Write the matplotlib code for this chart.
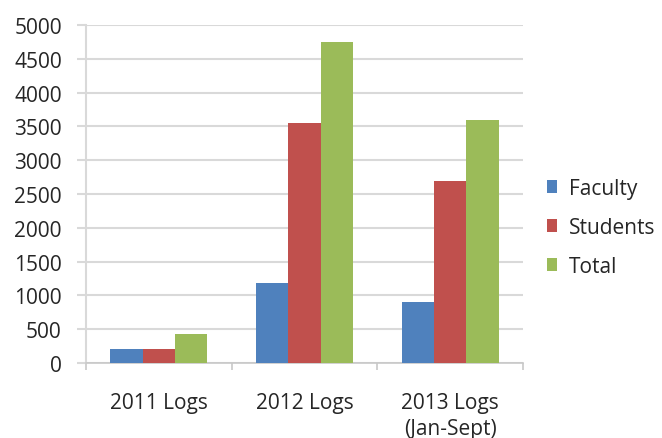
import numpy as np
import matplotlib.pyplot as plt

# data
categories = ['2011 Logs', '2012 Logs', '2013 Logs\n(Jan-Sept)']
faculty = [210, 1180, 900]
students = [210, 3550, 2690]
total = [430, 4740, 3590]

series = ['Faculty', 'Students', 'Total']
colors = ['#4F81BD', '#C0504D', '#9BBB59']

plt.rcParams['font.family'] = ['Open Sans', 'DejaVu Sans']
txt = '#262626'

fig = plt.figure(figsize=(6.62, 4.39), dpi=100)
ax = fig.add_axes([0.130, 0.171, 0.660, 0.770])

x = np.arange(len(categories))
w = 0.222
for i, (vals, name, col) in enumerate(zip([faculty, students, total], series, colors)):
    ax.bar(x + (i - 1) * w, vals, width=w, color=col, label=name, zorder=3)

ax.set_xlim(-0.5, len(categories) - 0.5)
ax.set_ylim(0, 5000)
ax.set_yticks(np.arange(0, 5001, 500))
ax.yaxis.grid(True, color='#d9d9d9', linewidth=1.5, zorder=0)

# category ticks at the boundaries
ax.set_xticks(np.arange(-0.5, len(categories), 1))
ax.set_xticklabels([])
ax.set_xticks(x, minor=True)
ax.set_xticklabels(categories, minor=True, fontsize=15, color=txt, linespacing=1.3)
ax.tick_params(axis='x', which='minor', length=0, pad=21)
ax.tick_params(axis='x', which='major', length=5, width=1.2, color='#c8c8c8', direction='out')
ax.tick_params(axis='y', length=6.5, width=1.5, color='#d9d9d9', labelsize=15,
               labelcolor=txt, pad=11)

for s in ['top', 'right']:
    ax.spines[s].set_visible(False)
ax.spines['left'].set_color('#d9d9d9')
ax.spines['left'].set_linewidth(1.5)
ax.spines['bottom'].set_color('#c8c8c8')
ax.spines['bottom'].set_linewidth(1.2)

ax.legend(loc='center left', bbox_to_anchor=(0.826, 0.480), bbox_transform=fig.transFigure,
          frameon=False, borderpad=0, borderaxespad=0,
          prop={'size': 15}, labelcolor=txt, handlelength=0.5, handleheight=0.6,
          handletextpad=0.55, labelspacing=0.87)

fig.savefig('out.png', dpi=100)
